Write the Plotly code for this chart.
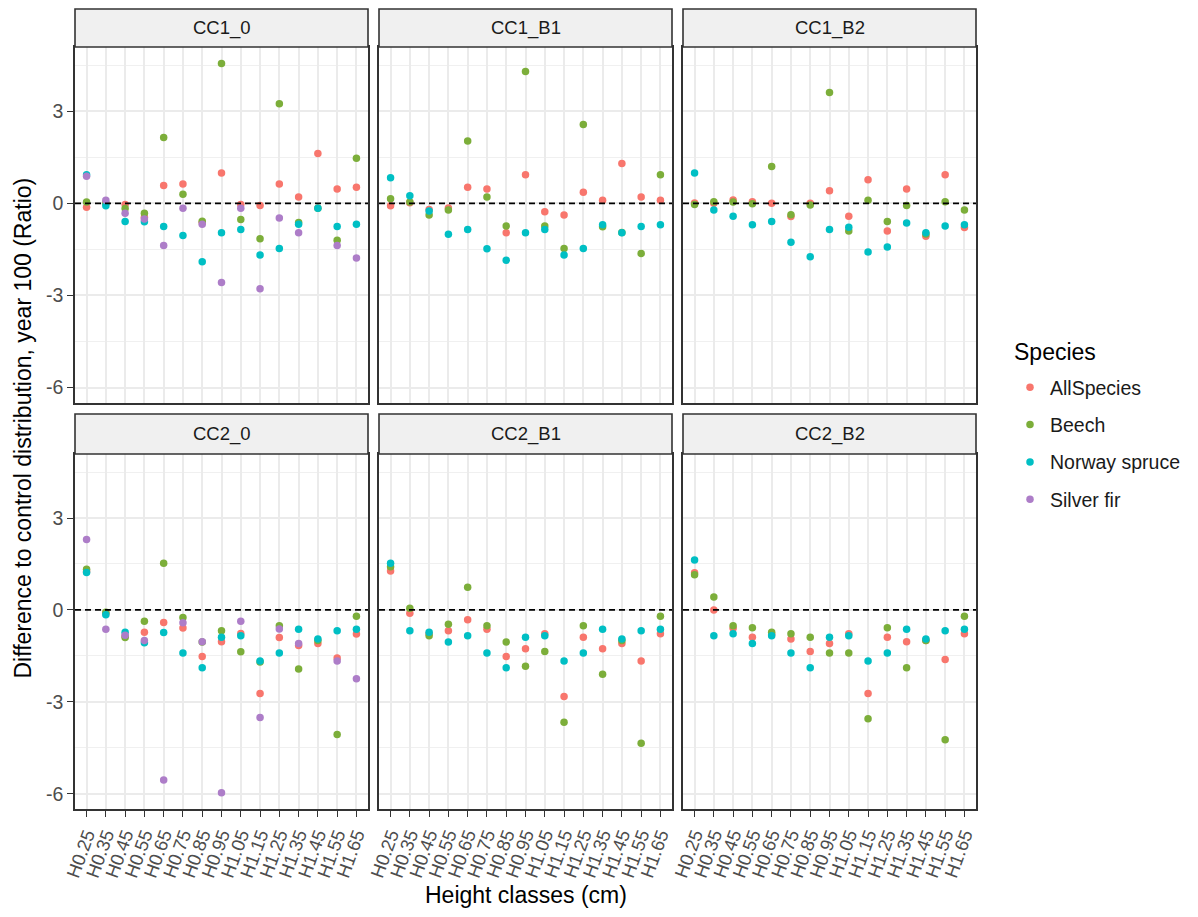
import plotly.graph_objects as go

# the page body has an 8px margin, so the figure is sized to fit the 1198x917 window exactly
OFF = 8
W, H = 1198 - 2 * OFF, 917 - 2 * OFF

height_classes = ["H0.25", "H0.35", "H0.45", "H0.55", "H0.65", "H0.75", "H0.85", "H0.95",
                  "H1.05", "H1.15", "H1.25", "H1.35", "H1.45", "H1.55", "H1.65"]
species = ["AllSpecies", "Beech", "Norway spruce", "Silver fir"]
species_colors = ["#F8766D", "#7CAE3A", "#00BFC4", "#AD7DC8"]
panels = ["CC1_0", "CC1_B1", "CC1_B2", "CC2_0", "CC2_B1", "CC2_B2"]

# CC1_0
cc1_0_all = [-0.13, 0.0, -0.04, -0.45, 0.58, 0.63, -0.62, 0.99, -0.04, -0.07, 0.63, 0.21, 1.62, 0.47, 0.52]
cc1_0_beech = [0.04, 0.0, -0.17, -0.32, 2.14, 0.30, -0.58, 4.55, -0.53, -1.15, 3.24, -0.62, -0.16, -1.20, 1.47]
cc1_0_spruce = [0.93, -0.08, -0.59, -0.60, -0.75, -1.05, -1.90, -0.96, -0.85, -1.68, -1.47, -0.68, -0.16, -0.75, -0.68]
cc1_0_fir = [0.88, 0.10, -0.32, -0.51, -1.37, -0.16, -0.68, -2.58, -0.16, -2.78, -0.48, -0.96, None, -1.37, -1.78]

# CC1_B1
cc1_b1_all = [-0.08, 0.02, -0.20, -0.15, 0.52, 0.47, -0.96, 0.93, -0.27, -0.38, 0.36, 0.10, 1.30, 0.21, 0.10]
cc1_b1_beech = [0.15, 0.04, -0.38, -0.22, 2.03, 0.21, -0.74, 4.29, -0.74, -1.47, 2.57, -0.76, -0.95, -1.63, 0.93]
cc1_b1_spruce = [0.83, 0.25, -0.25, -1.01, -0.85, -1.48, -1.85, -0.96, -0.85, -1.68, -1.47, -0.70, -0.96, -0.75, -0.70]

# CC1_B2
cc1_b2_all = [0.01, 0.0, 0.11, 0.05, 0.0, -0.43, 0.0, 0.41, -0.42, 0.77, -0.90, 0.47, -1.07, 0.93, -0.79]
cc1_b2_beech = [-0.04, 0.05, 0.04, -0.01, 1.20, -0.37, -0.05, 3.61, -0.90, 0.10, -0.59, -0.07, -1.00, 0.05, -0.22]
cc1_b2_spruce = [0.99, -0.22, -0.42, -0.70, -0.59, -1.27, -1.74, -0.85, -0.78, -1.58, -1.42, -0.64, -0.96, -0.74, -0.70]

# CC2_0
cc2_0_all = [1.25, -0.12, -0.85, -0.73, -0.41, -0.59, -1.52, -1.04, -0.77, -2.73, -0.90, -1.16, -1.10, -1.57, -0.79]
cc2_0_beech = [1.33, -0.08, -0.90, -0.37, 1.52, -0.25, -1.05, -0.68, -1.37, -1.70, -0.52, -1.93, -1.00, -4.07, -0.21]
cc2_0_spruce = [1.22, -0.16, -0.73, -1.07, -0.74, -1.41, -1.89, -0.89, -0.84, -1.67, -1.41, -0.63, -0.95, -0.68, -0.63]
cc2_0_fir = [2.30, -0.63, -0.83, -1.00, -5.55, -0.42, -1.04, -5.97, -0.37, -3.51, -0.62, -1.10, None, -1.67, -2.25]

# CC2_B1
cc2_b1_all = [1.27, -0.11, -0.78, -0.68, -0.32, -0.63, -1.52, -1.27, -0.78, -2.83, -0.89, -1.27, -1.10, -1.67, -0.78]
cc2_b1_beech = [1.41, 0.05, -0.84, -0.47, 0.74, -0.52, -1.05, -1.84, -1.36, -3.67, -0.52, -2.10, -1.00, -4.35, -0.21]
cc2_b1_spruce = [1.52, -0.68, -0.73, -1.05, -0.84, -1.41, -1.89, -0.89, -0.84, -1.67, -1.41, -0.63, -0.95, -0.68, -0.63]

# CC2_B2
cc2_b2_all = [1.21, 0.0, -0.60, -0.89, -0.80, -0.95, -1.36, -1.10, -0.78, -2.73, -0.89, -1.04, -1.00, -1.62, -0.78]
cc2_b2_beech = [1.15, 0.42, -0.52, -0.58, -0.73, -0.78, -0.89, -1.41, -1.41, -3.55, -0.58, -1.89, -1.00, -4.24, -0.21]
cc2_b2_spruce = [1.63, -0.84, -0.78, -1.10, -0.84, -1.41, -1.89, -0.89, -0.84, -1.67, -1.41, -0.63, -0.95, -0.68, -0.63]

panel_series = [
    [cc1_0_all, cc1_0_beech, cc1_0_spruce, cc1_0_fir],
    [cc1_b1_all, cc1_b1_beech, cc1_b1_spruce, None],
    [cc1_b2_all, cc1_b2_beech, cc1_b2_spruce, None],
    [cc2_0_all, cc2_0_beech, cc2_0_spruce, cc2_0_fir],
    [cc2_b1_all, cc2_b1_beech, cc2_b1_spruce, None],
    [cc2_b2_all, cc2_b2_beech, cc2_b2_spruce, None],
]

# layout in window pixels
col_px = [(75, 368), (379, 672), (683, 976)]
row_px = [((9, 47), (47, 403)), ((414, 454), (454, 809))]

def px_x(v):
    return (v - OFF) / W

def px_y(v):
    return 1 - (v - OFF) / H

fig = go.Figure()
layout = dict(
    width=W, height=H,
    margin=dict(l=0, r=0, t=0, b=0, autoexpand=False),
    paper_bgcolor="white", plot_bgcolor="white",
    font=dict(family="Liberation Sans, Arial, sans-serif", color="#1A1A1A"),
    showlegend=True,
    shapes=[], annotations=[],
)

text_grey = "#4D4D4D"
border = "#333333"
TICK_FS = 18.5
STRIP_FS = 18.5
TITLE_FS = 23
LEGEND_FS = 19.5

for i, pname in enumerate(panels):
    r, c = divmod(i, 3)
    ax = "" if i == 0 else str(i + 1)
    (sx0, sx1) = col_px[c]
    (st0, st1), (py0, py1) = row_px[r]
    xdom = [px_x(sx0), px_x(sx1)]
    ydom = [px_y(py1), px_y(py0)]
    layout["xaxis" + ax] = dict(
        domain=xdom, anchor="y" + ax, type="category",
        categoryorder="array", categoryarray=height_classes,
        tickmode="array", tickvals=height_classes, ticktext=height_classes,
        range=[-0.6, 14.6], showgrid=True, gridcolor="#EBEBEB", gridwidth=1.6,
        showline=True, mirror=True, linecolor=border, linewidth=1.6,
        zeroline=False, automargin=False,
        ticks="outside" if r == 1 else "", ticklen=6, tickcolor=border, tickwidth=1.4,
        showticklabels=(r == 1), tickangle=-70,
        tickfont=dict(size=TICK_FS, color=text_grey),
    )
    layout["yaxis" + ax] = dict(
        domain=ydom, anchor="x" + ax,
        range=[-6.5, 5.09], tickmode="array", tickvals=[-6, -3, 0, 3],
        ticktext=["-6", "-3", "0", "3"],
        showgrid=True, gridcolor="#EBEBEB", gridwidth=1.6,
        minor=dict(tickvals=[-4.5, -1.5, 1.5, 4.5], showgrid=True, gridcolor="#F0F0F0", gridwidth=0.9),
        showline=True, mirror=True, linecolor=border, linewidth=1.6,
        zeroline=False, automargin=False,
        ticks="outside" if c == 0 else "", ticklen=6, tickcolor=border, tickwidth=1.4,
        showticklabels=(c == 0),
        tickfont=dict(size=TICK_FS + 1, color=text_grey),
    )
    # strip
    layout["shapes"].append(dict(
        type="rect", xref="paper", yref="paper",
        x0=px_x(sx0), x1=px_x(sx1), y0=px_y(st1), y1=px_y(st0),
        fillcolor="#F0F0F0", line=dict(color=border, width=1.6), layer="above",
    ))
    layout["annotations"].append(dict(
        x=px_x((sx0 + sx1) / 2), y=px_y((st0 + st1) / 2), xref="paper", yref="paper",
        text=pname, showarrow=False, font=dict(size=STRIP_FS, color="#1A1A1A"),
        xanchor="center", yanchor="middle",
    ))
    # zero dashed line
    layout["shapes"].append(dict(
        type="line", xref="x" + ax + " domain", yref="y" + ax,
        x0=0, x1=1, y0=0, y1=0,
        line=dict(color="black", width=1.6, dash="6px,4px"), layer="above",
    ))
    for k, series in enumerate(panel_series[i]):
        if series is None:
            continue
        fig.add_trace(go.Scatter(
            x=height_classes, y=series, mode="markers",
            marker=dict(color=species_colors[k], size=7.5),
            name=species[k], legendgroup=species[k],
            showlegend=(i == 0), xaxis="x" + ax, yaxis="y" + ax,
        ))

layout["annotations"].append(dict(
    x=px_x(22.5), y=px_y(428), xref="paper", yref="paper",
    text="Difference to control distribution, year 100 (Ratio)", textangle=-90,
    showarrow=False, font=dict(size=TITLE_FS, color="black"), xanchor="center", yanchor="middle",
))
layout["annotations"].append(dict(
    x=px_x(526), y=px_y(895), xref="paper", yref="paper",
    text="Height classes (cm)", showarrow=False, font=dict(size=TITLE_FS, color="black"),
    xanchor="center", yanchor="middle",
))
layout["annotations"].append(dict(
    x=px_x(1012), y=px_y(352), xref="paper", yref="paper",
    text="Species", showarrow=False, font=dict(size=TITLE_FS, color="black"),
    xanchor="left", yanchor="middle",
))
layout["legend"] = dict(
    x=px_x(1010), y=px_y(368), xanchor="left", yanchor="top",
    font=dict(size=LEGEND_FS, color="#1A1A1A"), tracegroupgap=9,
    entrywidth=120, entrywidthmode="pixels",
    itemsizing="trace", bgcolor="rgba(0,0,0,0)",
)

fig.update_layout(**layout)
fig.write_html("out.html")
